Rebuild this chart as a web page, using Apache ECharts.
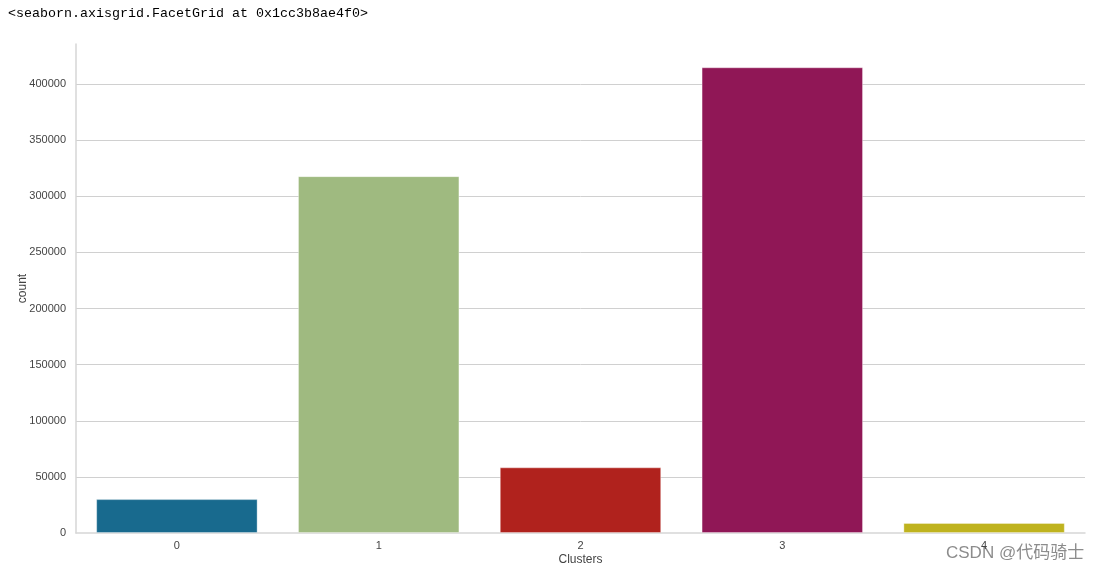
<!DOCTYPE html>
<html>
<head>
<meta charset="utf-8">
<script src="https://cdn.jsdelivr.net/npm/echarts@6/dist/echarts.min.js"></script>
<style>
html,body{margin:0;padding:0;background:#fff;}
#hdr{position:absolute;left:8px;top:6px;font-family:"Liberation Mono","DejaVu Sans Mono",monospace;font-size:13.33px;color:#000;white-space:pre;}
#c{position:absolute;left:0;top:0;width:1098px;height:574px;}
</style>
</head>
<body>
<div id="c"></div>
<div id="hdr">&lt;seaborn.axisgrid.FacetGrid at 0x1cc3b8ae4f0&gt;</div>
<script>
const categories = ['0', '1', '2', '3', '4'];
const counts = [30200, 318000, 58500, 415000, 9000];
const barColors = ['#186a8e', '#9fba80', '#b0221d', '#901756', '#bfb31f'];
const yTicks = [0, 50000, 100000, 150000, 200000, 250000, 300000, 350000, 400000];

const chart = echarts.init(document.getElementById('c'), null, {renderer: 'canvas'});
const yMax = Math.max(...counts) * 1.05;
chart.setOption({
  animation: false,
  backgroundColor: '#fff',
  grid: {left: 76, right: 13, top: 44, bottom: 41, containLabel: false},
  xAxis: {
    type: 'category',
    data: categories,
    name: 'Clusters',
    nameLocation: 'middle',
    nameGap: 21,
    nameMoveOverlap: false,
    nameTextStyle: {fontFamily: 'Liberation Sans, Arial', fontSize: 12, color: '#444'},
    axisLine: {show: true, lineStyle: {color: '#d6d6d6', width: 1.5}},
    axisTick: {show: false},
    axisLabel: {fontFamily: 'Liberation Sans, Arial', fontSize: 11, color: '#444', margin: 7},
    splitLine: {show: false}
  },
  yAxis: {
    type: 'value',
    min: 0,
    max: yMax,
    interval: 50000,
    name: 'count',
    nameLocation: 'middle',
    nameGap: 47,
    nameMoveOverlap: false,
    nameTextStyle: {fontFamily: 'Liberation Sans, Arial', fontSize: 12, color: '#444'},
    axisLine: {show: true, lineStyle: {color: '#d6d6d6', width: 1.5}},
    axisTick: {show: false},
    axisLabel: {
      fontFamily: 'Liberation Sans, Arial', fontSize: 11, color: '#444', margin: 10,
      showMaxLabel: false,
      formatter: v => (yTicks.indexOf(v) >= 0 ? String(v) : '')
    },
    splitLine: {show: true, showMinLine: false, showMaxLine: false, lineStyle: {color: '#d0d0d0', width: 1}}
  },
  series: [{
    type: 'bar',
    barWidth: '80%',
    data: counts.map((v, i) => ({value: v, itemStyle: {color: barColors[i]}})),
    itemStyle: {borderColor: 'rgba(255,255,255,0.35)', borderWidth: 1}
  }],
  graphic: [{
    type: 'text',
    left: 946,
    top: 545,
    style: {text: 'CSDN @代码骑士', fontFamily: 'Liberation Sans, Noto Sans CJK SC, sans-serif', fontSize: 17, fill: '#8c8c8c'}
  }]
});
</script>
</body>
</html>
